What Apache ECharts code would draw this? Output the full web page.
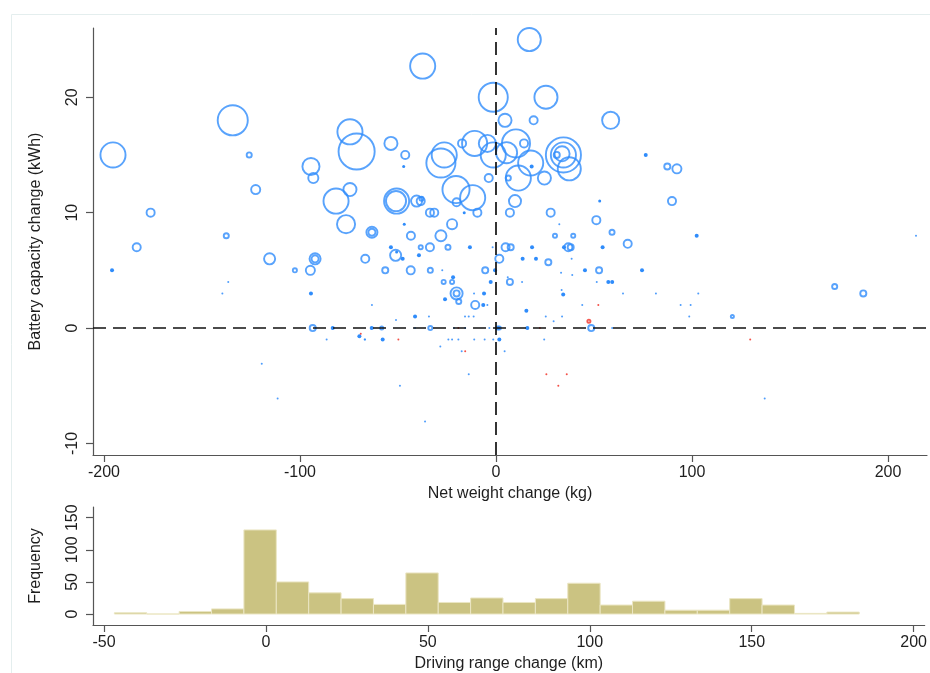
<!DOCTYPE html>
<html><head><meta charset="utf-8">
<script src="https://cdn.jsdelivr.net/npm/echarts@6/dist/echarts.min.js"></script>
<style>html,body{margin:0;padding:0;background:#fff}#c{width:930px;height:673px}</style>
</head><body><div id="c"></div>
<script>
// ---- scatter: blue markers (net weight change kg, battery change kWh, marker weight) ----
const weightChange = [
 -195.4,-134.3,-125.9,-122.6,-176.2,-183.3,-137.6,-94.4,-93.2,-37.4,
 17.0,-1.4,25.5,4.6,19.2,58.5,-74.5,-71.1,-53.6,-46.3,
 -47.1,-26.4,-28.1,-17.3,-10.9,-4.4,-1.4,5.4,10.2,14.3,
 17.7,18.2,11.4,6.3,24.7,-3.7,34.4,34.4,33.7,31.0,
 37.4,-81.6,-74.5,-76.5,-50.7,-51.0,-40.5,-38.4,-38.0,-20.4,
 -11.9,-20.1,-9.5,-16.2,-33.7,-31.5,-46.8,-43.4,-28.1,-22.4,
 -63.3,-63.3,9.7,7.1,27.9,52.9,51.2,59.2,67.2,30.1,
 39.4,32.3,
 -53.6,-38.4,-33.7,-24.5,-13.3,-1.7,4.9,7.5,18.4,34.7,36.9,38.1,54.4,
 -51.2,-50.7,-47.6,-39.3,-66.7,1.7,13.6,20.4,26.7,38.6,
 -56.5,-43.5,-33.5,-27.4,-5.5,-0.5,33.2,38.9,45.4,52.6,74.5,
 -21.9,-26.7,-22.4,-2.7,6.0,7.1,13.3,51.4,57.3,59.3,
 -20.1,-20.1,-11.2,-6.1,33.5,34.3,64.8,81.6,-26.0,-19.0,
 -63.3,-10.6,-6.5,-4.4,44.0,15.5,
 -51.0,-41.3,-34.2,-15.8,-13.9,-11.4,25.4,29.4,33.7,
 -63.4,-58.3,-41.3,-33.5,-21.4,-15.7,-3.4,0.9,1.7,16.0,48.6,59.3,
 -67,-57.8,-24.3,-22.4,-19.2,-11.1,-5.8,-1.4,1.7,24.6,-28.4,-17.5,4.4,-13.9,-49,-36.2,
 -195.9,-136.6,-139.6,-115.5,-102.6,-94.7,-92.3,-92.3,-94.4,-93.5,-83.3,-86.4,-69.7,-66.8,-119.5,-111.4,
 102.4,214.3,103.2,94.2,99.3,98.6,120.6,137.1,172.8,187.4,76.4,87.4,92.3,89.8
];
const batteryChange = [
 15.0,18.0,15.0,12.0,10.0,7.0,8.0,14.0,13.0,22.7,
 25.0,20.0,20.0,18.0,18.0,18.0,17.0,15.3,16.0,15.0,
 14.0,15.0,14.3,16.0,16.0,16.0,15.0,15.2,16.0,16.0,
 14.3,14.0,13.0,13.0,13.0,13.0,15.0,15.0,15.1,15.0,
 13.8,11.0,12.0,9.0,11.0,11.0,11.0,11.0,11.2,12.0,
 11.3,10.9,10.0,10.0,10.0,10.0,9.0,8.0,8.0,9.0,
 8.3,8.3,11.0,10.0,10.0,11.0,9.35,8.3,7.3,8.0,
 8.0,9.0,
 7,7,7,7,7,7,7,7,7,7,7,7,7,
 6.3,6.6,6.0,6.3,6.0,6.0,6.0,6.0,5.7,6.0,
 5,5,5,5,5,5,4.8,4.6,5,5,5,
 4.4,4.0,4.0,4.0,4.4,4.0,4.0,4.0,4.0,4.0,
 3,3,3,3,3.3,2.9,3,3,2.5,2.3,
 2,2,2,2,2,1.5,
 0.7,1,1,1,1,1,1,0.6,1,
 0,0,0,0,0,0,0,0,0,0,0,0,
 -1,-1,-1,-1,-1,-1,-1,-1,-1,-1,-1.6,-2,-2,-4,-5,-8.1,
 5.0,4.0,3.0,6.0,5.0,5.0,6.0,6.0,3.0,0,0,-1,-0.7,-1,-3.1,-6.1,
 8.0,8.0,3.0,2.0,2.0,1.0,1.0,-6.1,3.6,3.0,15.0,14.0,13.8,11.0
];
const markerWeight = [
 27,32,7,11,10,10,7,19,12,27,
 25,31,25,15,10,19,27,38,15,10,
 3,27,31,10,27,19,27,23,30,10,
 27,4,27,7,15,10,37,27,17,8,
 25,27,15,20,27,22,13,10,6,29,
 27,10,10,3,10,10,3,10,13,12,
 13,9,14,10,10,3,10,7,10,6,
 6,2,
 4,6,10,7,4,2,10,8,4,4,10,8,4,
 13,3,4,4,10,10,4,4,8,2,
 8,10,7,2,8,4,2,2,4,8,4,
 4,6,6,4,2,8,2,2,4,4,
 14,8,2,4,2,4,2,2,4,7,
 2,10,4,2,2,4,
 2,4,2,2,2,2,2,2,2,
 4,5,2,6,2,2,2,5,5,4,8,2,
 2,4,2,2,2,2,2,2,4,2,2,2,2,2,2,2,
 4,2,2,13,6,11,13,9,4,8,4,2,4,2,2,2,
 4,2,2,2,2,2,5,2,7,8,4,8,11,10
];
// ---- scatter: red markers ----
const redWeightChange = [52.2,47.4,-19.2,22.4,-49.8,-15.7,25.7,36.1,31.8,-69,129.7];
const redBatteryChange = [2.0,0.6,0,0,-1,-2,-4,-4,-5,-0.5,-1];
const redMarkerWeight = [2,5,2,2,2,2,2,2,2,2,2];

const xTicks = [-200,-100,0,100,200];
const yTicks = [-10,0,10,20];

// ---- histogram of driving range change (km) ----
const binLow = [-46.8,-36.8,-26.8,-16.8,-6.8,3.2,13.2,23.2,33.2,43.2,53.2,63.2,73.2,83.2,93.2,103.2,113.2,123.2,133.2,143.2,153.2,163.2,173.2];
const binWidth = 10;
const frequency = [2,0,4,8,131,50,33,24,15,64,18,25,18,24,48,14,20,6,6,24,14,1,3];
const histXTicks = [-50,0,50,100,150,200];
const histYTicks = [0,50,100,150];

const BLUE = '#2f8cfb', RED = '#f23228';
const AXIS = '#555', TXT = '#1e1e1e', FONT = '"Liberation Sans", Arial, Helvetica, sans-serif';

function points(xs, ys, ws, color) {
  return xs.map((x, i) => {
    const d = ws[i];
    if (d <= 4) return {value: [x, ys[i]], symbolSize: d, itemStyle: {color: color, borderWidth: 0, opacity: d <= 2 ? 0.85 : 1}};
    return {value: [x, ys[i]], symbolSize: d - 1.9, itemStyle: {color: 'rgba(0,0,0,0)', borderColor: color, borderWidth: 1.9}};
  });
}

function valueAxis(opts) {
  return Object.assign({
    type: 'value',
    splitLine: {show: false},
    axisLine: {show: true, onZero: false, lineStyle: {color: AXIS, width: 1.2}},
    axisTick: {show: true, length: 7, customValues: opts.ticks, lineStyle: {color: AXIS, width: 1.2}},
    axisLabel: {customValues: opts.ticks, fontSize: 16, color: TXT, fontFamily: FONT, margin: opts.margin, rotate: opts.rotate || 0},
    nameLocation: 'middle',
    nameTextStyle: {fontSize: 16, color: TXT, fontFamily: FONT}
  }, opts.extra);
}

const chart = echarts.init(document.getElementById('c'), null, {renderer: 'canvas'});
chart.setOption({
  animation: false,
  backgroundColor: '#fff',
  graphic: [{type: 'rect', left: 9, top: 12, shape: {width: 930, height: 670}, style: {fill: 'none', stroke: '#e4eeee', lineWidth: 1}, z: -1}],
  grid: [
    {left: 93, top: 28, width: 834, height: 427},
    {left: 93, top: 507, width: 834, height: 118}
  ],
  xAxis: [
    valueAxis({ticks: xTicks, margin: 10, extra: {gridIndex: 0, min: -205.6, max: 219.9, name: 'Net weight change (kg)', nameGap: 31}}),
    valueAxis({ticks: histXTicks, margin: 10, extra: {gridIndex: 1, min: -53.4, max: 203.4, name: 'Driving range change (km)', nameGap: 31}})
  ],
  yAxis: [
    valueAxis({ticks: yTicks, margin: 12, rotate: 90, extra: {gridIndex: 0, min: -11, max: 26, name: 'Battery capacity change (kWh)', nameGap: 49}}),
    valueAxis({ticks: histYTicks, margin: 12, rotate: 90, extra: {gridIndex: 1, min: -17.1, max: 166.7, name: 'Frequency', nameGap: 49}})
  ],
  series: [
    {
      type: 'scatter', xAxisIndex: 0, yAxisIndex: 0, symbol: 'circle',
      data: points(weightChange, batteryChange, markerWeight, BLUE),
      markLine: {
        silent: true, symbol: ['none', 'none'], label: {show: false},
        lineStyle: {type: [13, 7], color: '#111', width: 1.7},
        data: [{yAxis: 0}, {xAxis: 0}]
      }
    },
    {
      type: 'scatter', xAxisIndex: 0, yAxisIndex: 0, symbol: 'circle',
      data: points(redWeightChange, redBatteryChange, redMarkerWeight, RED)
    },
    {
      type: 'custom', xAxisIndex: 1, yAxisIndex: 1,
      encode: {x: [0, 1], y: 2},
      data: binLow.map((lo, i) => [lo, lo + binWidth, frequency[i]]),
      renderItem: function (params, api) {
        const a = api.coord([api.value(0), api.value(2)]);
        const b = api.coord([api.value(1), 0]);
        return {type: 'rect', shape: {x: a[0], y: a[1], width: b[0] - a[0], height: b[1] - a[1]},
                style: {fill: '#cbc382', stroke: '#ebe6c4', lineWidth: 1}};
      }
    }
  ]
});
</script></body></html>
